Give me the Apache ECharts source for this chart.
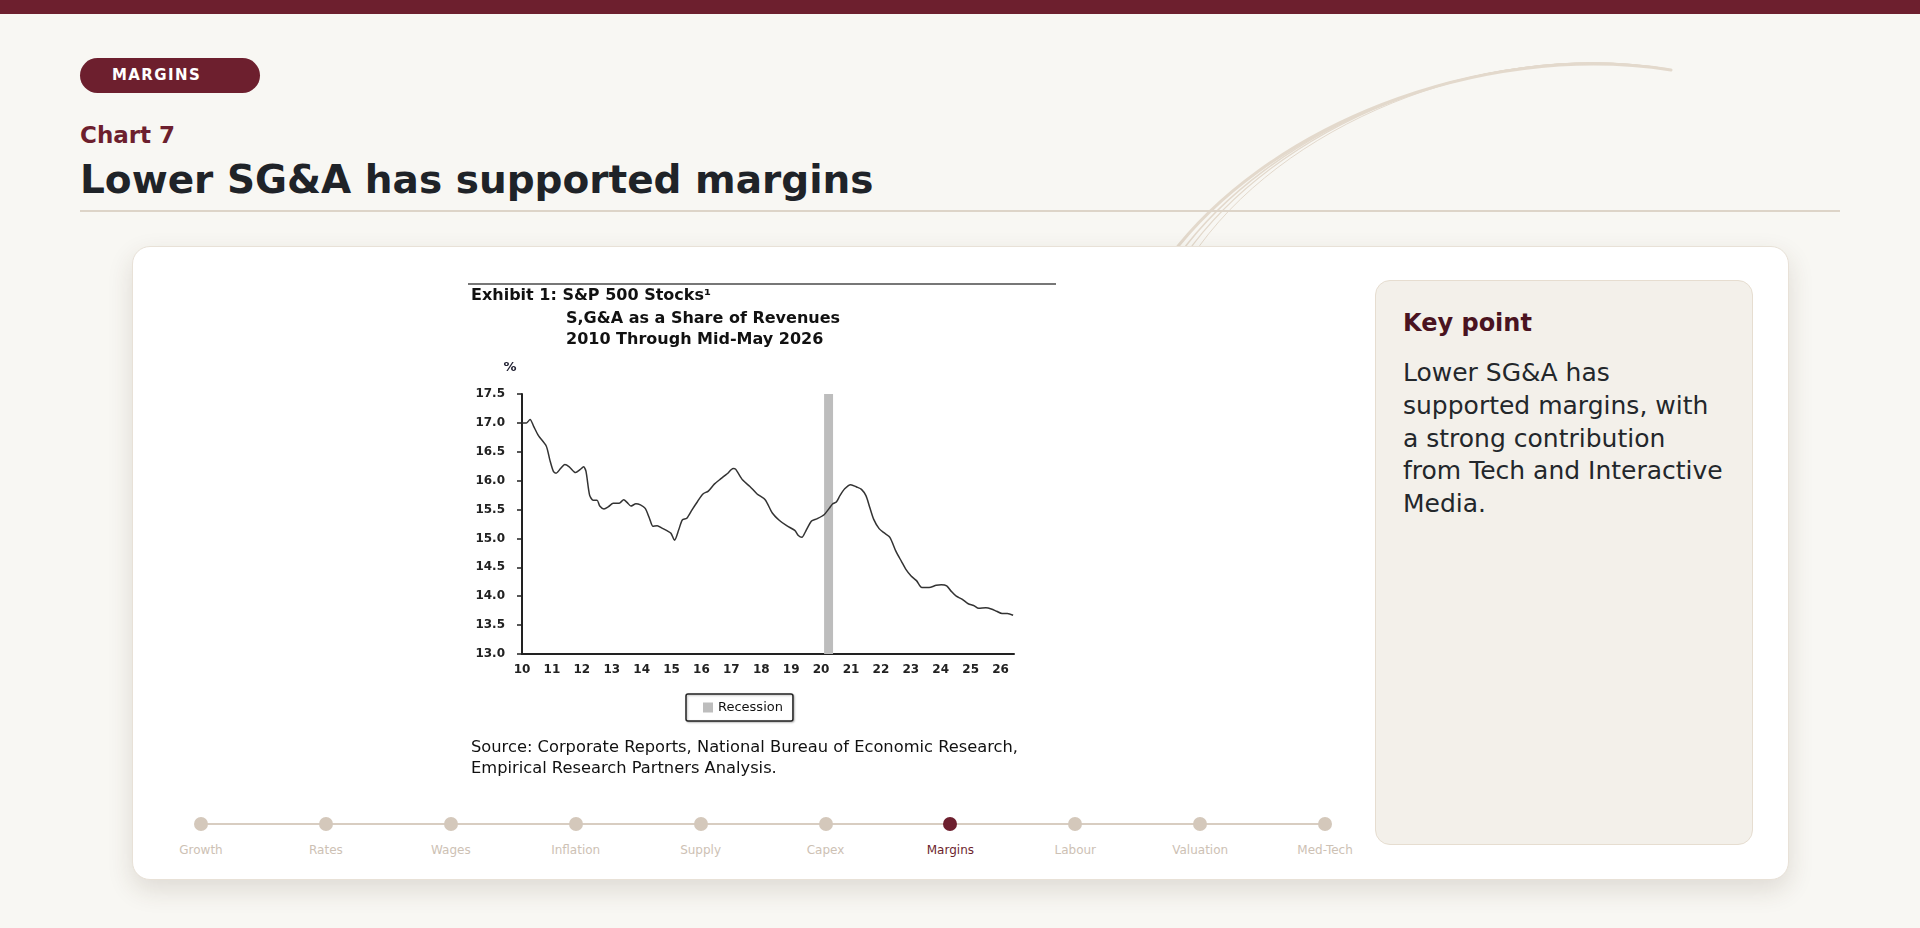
<!DOCTYPE html>
<html>
<head>
<meta charset="utf-8">
<title>Chart 7 - Lower SG&amp;A has supported margins</title>
<script src="https://cdn.jsdelivr.net/npm/echarts@6/dist/echarts.min.js"></script>
<style>
  html, body { margin: 0; padding: 0; }
  body {
    width: 1920px; height: 928px; overflow: hidden; position: relative;
    background: #f8f7f3; font-family: "DejaVu Sans", sans-serif;
  }
  .topbar { position: absolute; left: 0; top: 0; width: 1920px; height: 14px; background: #6d1f2e; }
  .swoosh { position: absolute; left: 0; top: 0; width: 1920px; height: 300px; z-index: 0; }
  .pill {
    position: absolute; left: 80px; top: 58px; width: 148px; height: 35px; padding-left: 32px;
    border-radius: 18px; background: #6d1f2e; color: #fff; font-weight: bold;
    font-size: 15px; line-height: 35px; letter-spacing: 1.4px;
  }
  .kicker { position: absolute; left: 80px; top: 121px; font-size: 23px; line-height: 28px; font-weight: bold; color: #6d1f2e; }
  .title { position: absolute; left: 80px; top: 156px; font-size: 39px; line-height: 47px; font-weight: bold; color: #1f2328; white-space: nowrap; }
  .rule { position: absolute; left: 80px; top: 210px; width: 1760px; height: 2px; background: #ddd4c8; }
  .card {
    position: absolute; left: 132px; top: 246px; width: 1655px; height: 632px; z-index: 1;
    background: #fff; border: 1px solid #e8e1d7; border-radius: 18px;
    box-shadow: 0 10px 26px rgba(70, 50, 30, 0.14);
  }
  #chart { position: absolute; left: 440px; top: 270px; width: 640px; height: 530px; z-index: 2; }
  .panel {
    position: absolute; left: 1375px; top: 280px; width: 378px; height: 565px; z-index: 2;
    background: #f3f0ea; border: 1px solid #e6ddd0; border-radius: 15px; box-sizing: border-box;
  }
  .panel h3 { position: absolute; left: 27px; top: 28px; margin: 0; font-size: 24px; line-height: 29px; color: #4a1320; white-space: nowrap; }
  .panel p { position: absolute; left: 27px; top: 76px; margin: 0; font-size: 25px; line-height: 32.8px; color: #23272b; white-space: nowrap; }
  .nav { position: absolute; left: 0; top: 0; z-index: 2; }
  .nav .line { position: absolute; left: 201px; top: 823px; width: 1124px; height: 2px; background: #d8cdc1; }
  .nav .dot { position: absolute; width: 14px; height: 14px; border-radius: 50%; background: #d4c8bb; top: 817px; }
  .nav .dot.on { background: #6d1f2e; }
  .nav .lab { position: absolute; width: 120px; text-align: center; top: 843px; font-size: 12px; line-height: 14px; color: #cdc1b4; }
  .nav .lab.on { color: #6d1f2e; }
</style>
</head>
<body>
<div class="topbar"></div>
<svg class="swoosh" viewBox="0 0 1920 300">
  <g fill="none" stroke="#e3d9cc" stroke-linecap="round">
    <path d="M1166 262 C1262 128 1478 40 1671 70" stroke-width="3"/>
    <path d="M1174 262 C1268 126 1480 40 1668 69" stroke-width="1.6"/>
    <path d="M1182 260 C1274 124 1482 41 1662 68" stroke-width="1.2"/>
    <path d="M1191 258 C1280 123 1486 43 1650 67" stroke-width="1"/>
  </g>
</svg>
<div class="pill">MARGINS</div>
<div class="kicker">Chart 7</div>
<div class="title">Lower SG&amp;A has supported margins</div>
<div class="rule"></div>
<div class="card"></div>
<div id="chart"></div>
<div class="panel">
  <h3>Key point</h3>
  <p>Lower SG&amp;A has<br>supported margins, with<br>a strong contribution<br>from Tech and Interactive<br>Media.</p>
</div>
<div class="nav" id="nav"><div class="line"></div></div>
<script>
const years = [2010.00, 2010.15, 2010.27, 2010.39, 2010.55, 2010.81, 2010.93, 2011.05, 2011.14, 2011.29,
  2011.43, 2011.58, 2011.79, 2011.94, 2012.06, 2012.14, 2012.26, 2012.38, 2012.51, 2012.60,
  2012.74, 2012.89, 2013.05, 2013.25, 2013.40, 2013.52, 2013.64, 2013.81, 2013.96, 2014.12,
  2014.26, 2014.38, 2014.52, 2014.68, 2014.86, 2014.98, 2015.10, 2015.24, 2015.36, 2015.51,
  2015.69, 2015.87, 2016.05, 2016.23, 2016.43, 2016.64, 2016.86, 2017.06, 2017.14, 2017.38,
  2017.62, 2017.86, 2018.13, 2018.37, 2018.61, 2018.85, 2019.12, 2019.24, 2019.36, 2019.48,
  2019.68, 2019.86, 2020.10, 2020.27, 2020.39, 2020.51, 2020.63, 2020.79, 2020.99, 2021.19,
  2021.35, 2021.50, 2021.62, 2021.76, 2021.94, 2022.10, 2022.30, 2022.50, 2022.69, 2022.83,
  2023.01, 2023.19, 2023.37, 2023.61, 2023.85, 2024.02, 2024.20, 2024.36, 2024.52, 2024.71,
  2024.92, 2025.10, 2025.27, 2025.51, 2025.69, 2025.87, 2026.05, 2026.23, 2026.42];
const sgaShare = [17.00, 17.00, 17.06, 16.94, 16.78, 16.60, 16.36, 16.16, 16.13, 16.21,
  16.28, 16.24, 16.14, 16.19, 16.24, 16.16, 15.75, 15.66, 15.66, 15.56,
  15.51, 15.55, 15.61, 15.61, 15.67, 15.62, 15.56, 15.60, 15.58, 15.52,
  15.35, 15.21, 15.22, 15.18, 15.13, 15.09, 14.97, 15.15, 15.32, 15.35,
  15.50, 15.64, 15.77, 15.82, 15.94, 16.03, 16.12, 16.21, 16.20, 16.01,
  15.90, 15.77, 15.67, 15.44, 15.31, 15.22, 15.14, 15.05, 15.02, 15.12,
  15.30, 15.34, 15.41, 15.52, 15.60, 15.63, 15.74, 15.86, 15.93, 15.89,
  15.85, 15.74, 15.55, 15.33, 15.17, 15.10, 15.02, 14.78, 14.60, 14.47,
  14.35, 14.27, 14.15, 14.15, 14.19, 14.20, 14.18, 14.08, 14.00, 13.95,
  13.87, 13.84, 13.79, 13.80, 13.78, 13.74, 13.70, 13.70, 13.67];
const recession = [2020.1, 2020.4];
const xTickLabels = ['10', '11', '12', '13', '14', '15', '16', '17', '18', '19', '20', '21', '22', '23', '24', '25', '26'];
const xMin = 2010, xMax = 2026.45;
const yMin = 13.0, yMax = 17.5, yStep = 0.5;
const navItems = ['Growth', 'Rates', 'Wages', 'Inflation', 'Supply', 'Capex', 'Margins', 'Labour', 'Valuation', 'Med-Tech'];
const navActive = 'Margins';

// progress strip under the chart
const nav = document.getElementById('nav');
navItems.forEach((name, i) => {
  const cx = 201 + i * 124.9;
  const on = name === navActive ? ' on' : '';
  const dot = document.createElement('div');
  dot.className = 'dot' + on;
  dot.style.left = (cx - 7) + 'px';
  const lab = document.createElement('div');
  lab.className = 'lab' + on;
  lab.style.left = (cx - 60) + 'px';
  lab.textContent = name;
  nav.appendChild(dot);
  nav.appendChild(lab);
});

const font = '"DejaVu Sans"';
const chart = echarts.init(document.getElementById('chart'), null, { renderer: 'canvas' });
const option = {
  animation: false,
  textStyle: { fontFamily: font },
  grid: { left: 82, right: 66, top: 124, bottom: 146, containLabel: false },
  graphic: [
    { type: 'line', shape: { x1: 28, y1: 14, x2: 616, y2: 14 }, style: { stroke: '#777', lineWidth: 2 } },
    { type: 'text', x: 31, y: 26, style: { text: 'Exhibit 1: S&P 500 Stocks¹', font: 'bold 16px ' + font, fill: '#111', verticalAlign: 'middle' } },
    { type: 'text', x: 126, y: 49, style: { text: 'S,G&A as a Share of Revenues', font: 'bold 16px ' + font, fill: '#111', verticalAlign: 'middle' } },
    { type: 'text', x: 126, y: 70, style: { text: '2010 Through Mid-May 2026', font: 'bold 16px ' + font, fill: '#111', verticalAlign: 'middle' } },
    { type: 'text', x: 70, y: 98, style: { text: '%', font: 'bold 13px ' + font, fill: '#223', align: 'center', verticalAlign: 'middle' } },
    { type: 'text', x: 31, y: 478, style: { text: 'Source: Corporate Reports, National Bureau of Economic Research,', font: '16.3px ' + font, fill: '#111', verticalAlign: 'middle' } },
    { type: 'text', x: 31, y: 499, style: { text: 'Empirical Research Partners Analysis.', font: '16.3px ' + font, fill: '#111', verticalAlign: 'middle' } }
  ],
  legend: {
    data: ['Recession'], left: 246, top: 424, icon: 'rect', itemWidth: 10, itemHeight: 10,
    padding: [7, 10, 7, 17], borderColor: '#222', borderWidth: 1.5, borderRadius: 2,
    shadowColor: 'rgba(0,0,0,0.25)', shadowBlur: 2, shadowOffsetX: 1, shadowOffsetY: 1,
    backgroundColor: '#fff', selectedMode: false,
    textStyle: { fontSize: 13, color: '#111', fontFamily: font }
  },
  xAxis: {
    type: 'value', min: xMin, max: xMax, interval: 1,
    axisLine: { lineStyle: { color: '#222', width: 2 } },
    axisTick: { show: false },
    splitLine: { show: false },
    axisLabel: {
      margin: 10, fontSize: 12, fontWeight: 'bold', color: '#222',
      formatter: v => {
        const r = Math.round(v);
        return Math.abs(v - r) < 1e-6 ? (xTickLabels[r - xMin] || '') : '';
      }
    }
  },
  yAxis: {
    type: 'value', min: yMin, max: yMax, interval: yStep,
    axisLine: { show: true, lineStyle: { color: '#222', width: 2 } },
    axisTick: { show: true, length: 5, lineStyle: { color: '#222', width: 1.5 } },
    splitLine: { show: false },
    axisLabel: { margin: 17, fontSize: 12, fontWeight: 'bold', color: '#222', formatter: v => v.toFixed(1) }
  },
  series: [
    {
      name: 'S,G&A share', type: 'line', showSymbol: false, smooth: 0.25,
      data: years.map((y, i) => [y, sgaShare[i]]),
      lineStyle: { color: '#333', width: 1.5 }, itemStyle: { color: '#333' },
      markArea: {
        silent: true, itemStyle: { color: '#bdbdbd' },
        data: [[{ xAxis: recession[0] }, { xAxis: recession[1] }]]
      },
      z: 3
    },
    { name: 'Recession', type: 'line', data: [], itemStyle: { color: '#bdbdbd' }, lineStyle: { color: '#bdbdbd' } }
  ]
};
chart.setOption(option);
</script>
</body>
</html>
